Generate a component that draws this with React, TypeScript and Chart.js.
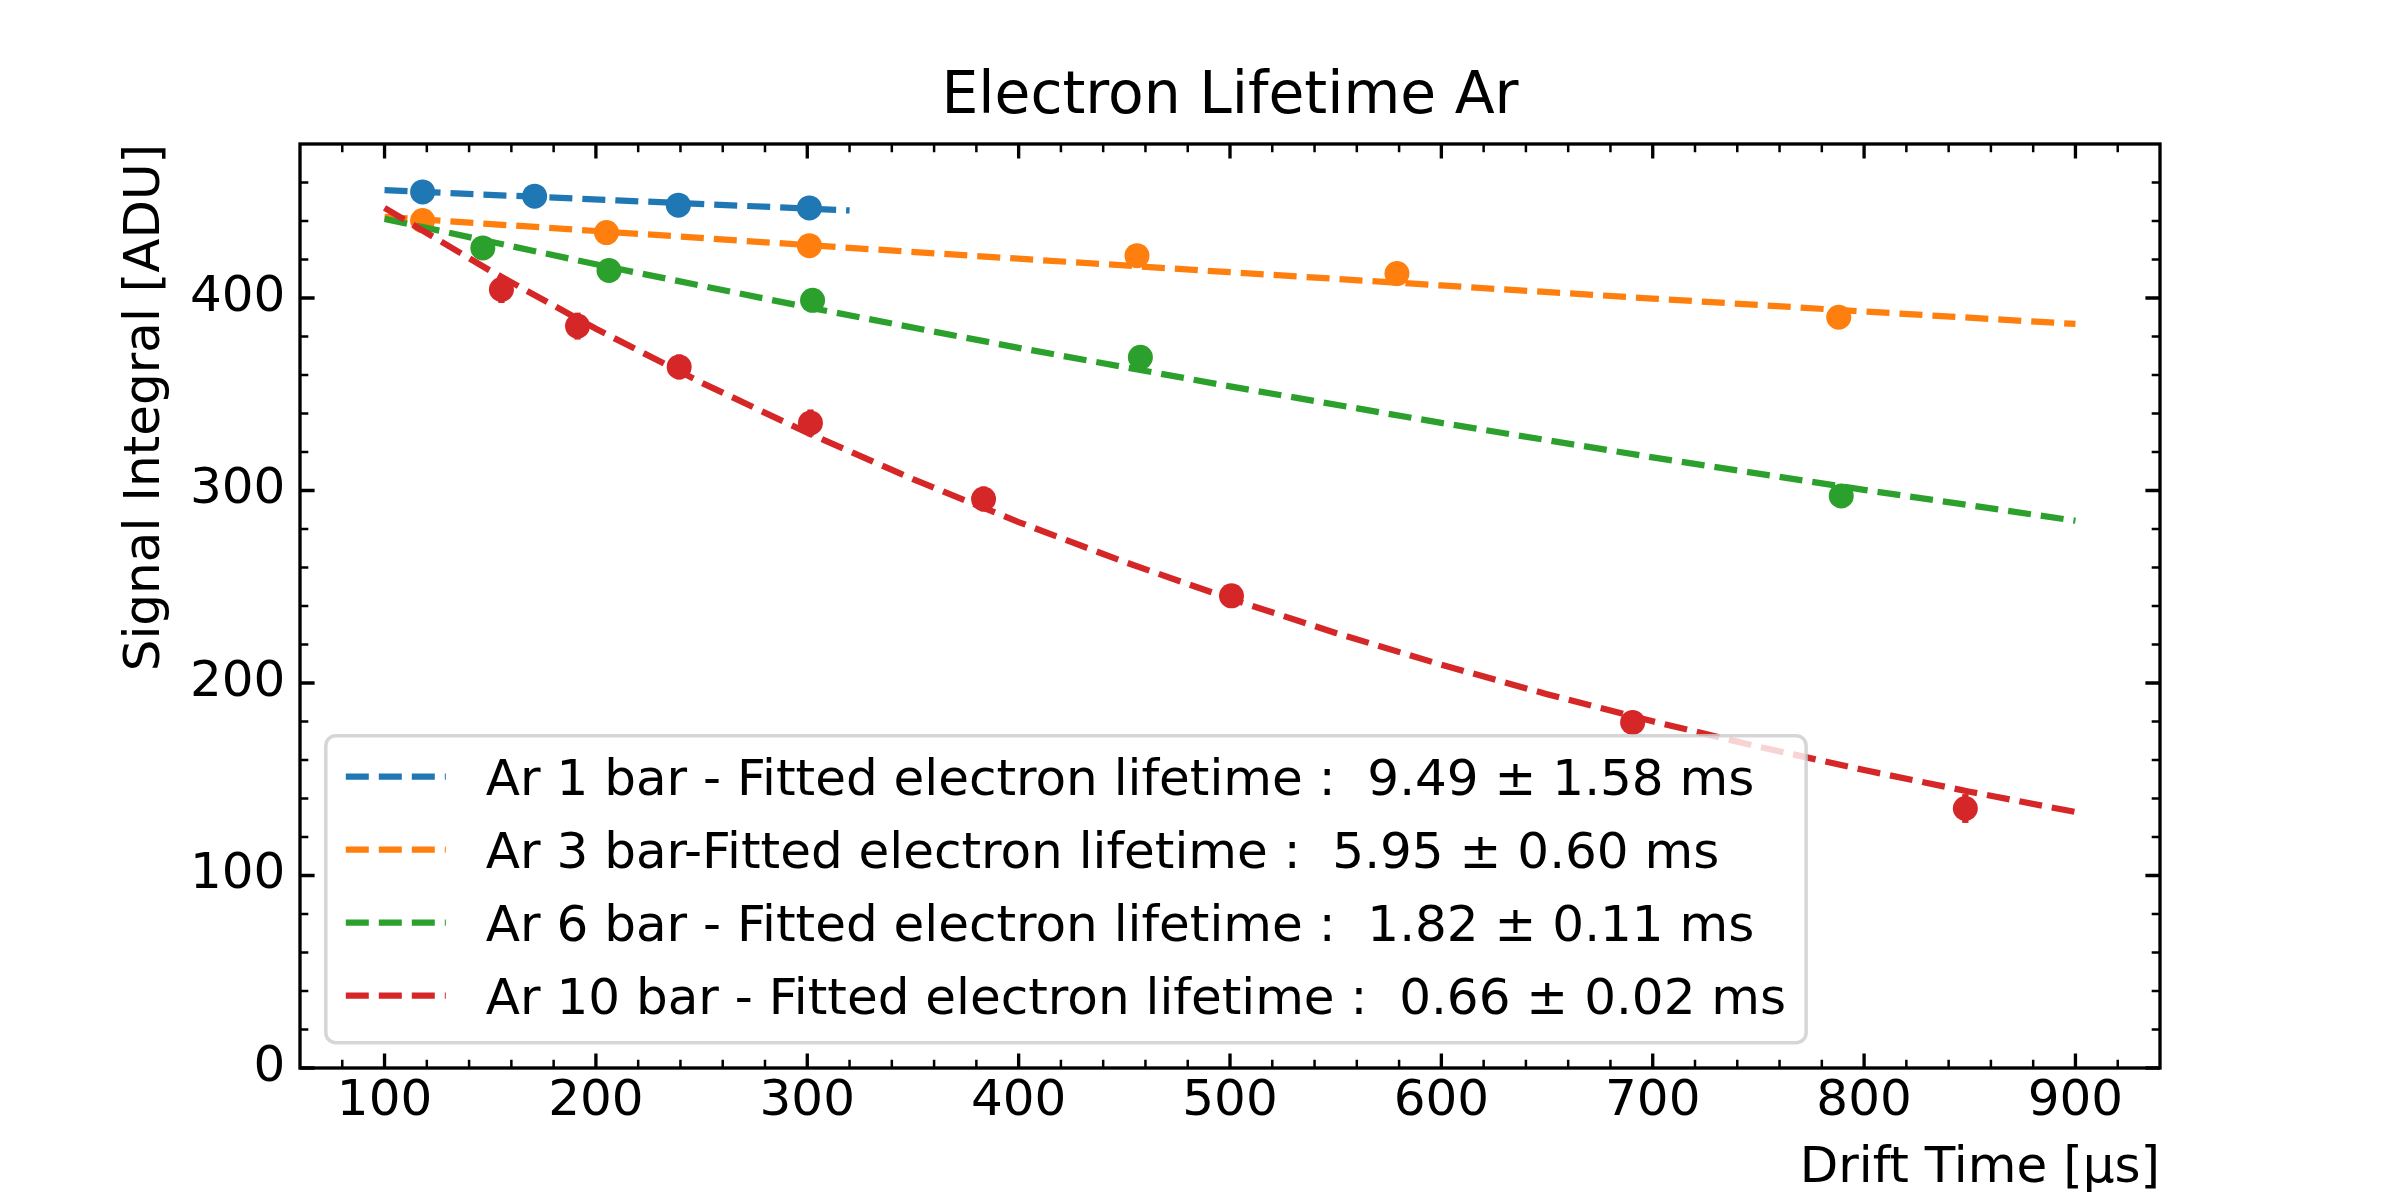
import { useEffect, useRef } from "react";
import { Chart, registerables } from "chart.js";

Chart.register(...registerables);

const FONT = "'DejaVu Sans', 'Liberation Sans', sans-serif";

const TITLE = "Electron Lifetime Ar";
const X_LABEL = "Drift Time [μs]";
const Y_LABEL = "Signal Integral [ADU]";

const X_TICKS = [100, 200, 300, 400, 500, 600, 700, 800, 900];
const Y_TICKS = [0, 100, 200, 300, 400];
const X_MIN = 60;
const X_MAX = 940;
const Y_MIN = 0;
const Y_MAX = 480;
const MINOR_STEP = 20;

const LEGEND_LABELS = [
  "Ar 1 bar - Fitted electron lifetime :  9.49 ± 1.58 ms",
  "Ar 3 bar-Fitted electron lifetime :  5.95 ± 0.60 ms",
  "Ar 6 bar - Fitted electron lifetime :  1.82 ± 0.11 ms",
  "Ar 10 bar - Fitted electron lifetime :  0.66 ± 0.02 ms",
];
const COLORS = ["#1f77b4", "#ff7f0e", "#2ca02c", "#d62728"];

// measured points (drift time in µs, signal integral in ADU, y error)
const ar1X = [118, 171, 239, 301];
const ar1Y = [455.1, 452.9, 448.2, 446.8];
const ar1Err = [2.5, 2.5, 2.5, 2.5];

const ar3X = [118, 205, 301, 456, 579, 788];
const ar3Y = [440.2, 434.0, 427.2, 422.0, 412.7, 390.0];
const ar3Err = [2.5, 2.5, 2.5, 2.5, 2.5, 3];

const ar6X = [146.5, 206.2, 302.5, 457.6, 789.2];
const ar6Y = [426.0, 414.3, 398.8, 369.2, 297.2];
const ar6Err = [3, 3, 3, 3, 3];

const ar10X = [155.3, 191.3, 239.4, 301.5, 383.4, 500.7, 690.5, 847.9];
const ar10Y = [404.4, 385.4, 364.2, 335.1, 295.6, 245.3, 179.5, 134.8];
const ar10Err = [7, 7, 6.5, 7, 6.5, 6, 6, 7.5];

// fitted curves
const fit1X = [100, 210, 320];
const fit1Y = [456.0, 450.7, 445.5];

const fit3X = [100, 200, 300, 400, 500, 600, 700, 800, 900];
const fit3Y = [442.1, 434.8, 427.5, 420.4, 413.4, 406.5, 399.7, 393.0, 386.5];

const fit6X = [100, 200, 300, 400, 500, 600, 700, 800, 900];
const fit6Y = [441.1, 417.5, 395.2, 374.1, 354.1, 335.1, 317.2, 300.3, 284.3];

const fit10X = [100, 150, 200, 250, 300, 350, 400, 450, 500, 550, 600, 650, 700, 750, 800, 850, 900];
const fit10Y = [446.8, 414.2, 384.0, 356.0, 330.0, 305.9, 283.6, 262.9, 243.8, 226.0, 209.5, 194.2, 180.1, 166.9, 154.8, 143.5, 133.0];

const pts = (xs: number[], ys: number[]) => xs.map((x, i) => ({ x, y: ys[i] }));

const errorBarPlugin = {
  id: "errorBars",
  beforeDatasetDraw(chart: any, args: any) {
    const ds = chart.data.datasets[args.index];
    if (!ds.errs) return;
    const meta = chart.getDatasetMeta(args.index);
    const ys = chart.scales.y;
    const ctx = chart.ctx;
    ctx.save();
    ctx.strokeStyle = ds.backgroundColor;
    ctx.lineWidth = 6.25;
    ds.data.forEach((p: any, i: number) => {
      const el = meta.data[i];
      ctx.beginPath();
      ctx.moveTo(el.x, ys.getPixelForValue(p.y - ds.errs[i]));
      ctx.lineTo(el.x, ys.getPixelForValue(p.y + ds.errs[i]));
      ctx.stroke();
    });
    ctx.restore();
  },
};

const frameLegendPlugin = {
  id: "frameLegend",
  afterDraw(chart: any) {
    const ctx = chart.ctx;
    const { left, right, top, bottom } = chart.chartArea;
    const xs = chart.scales.x;
    const ys = chart.scales.y;
    ctx.save();
    ctx.strokeStyle = "#000";
    // minor ticks
    ctx.lineWidth = 2.5;
    for (let v = X_MIN; v <= X_MAX + 1e-9; v += MINOR_STEP) {
      if (X_TICKS.includes(v) || v === X_MIN || v === X_MAX) continue;
      const px = xs.getPixelForValue(v);
      ctx.beginPath();
      ctx.moveTo(px, bottom);
      ctx.lineTo(px, bottom - 8.3);
      ctx.moveTo(px, top);
      ctx.lineTo(px, top + 8.3);
      ctx.stroke();
    }
    for (let v = Y_MIN; v <= Y_MAX + 1e-9; v += MINOR_STEP) {
      if (Y_TICKS.includes(v) || v === Y_MIN || v === Y_MAX) continue;
      const py = ys.getPixelForValue(v);
      ctx.beginPath();
      ctx.moveTo(left, py);
      ctx.lineTo(left + 8.3, py);
      ctx.moveTo(right, py);
      ctx.lineTo(right - 8.3, py);
      ctx.stroke();
    }
    // major ticks
    ctx.lineWidth = 3.33;
    X_TICKS.forEach((v) => {
      const px = xs.getPixelForValue(v);
      ctx.beginPath();
      ctx.moveTo(px, bottom);
      ctx.lineTo(px, bottom - 14.6);
      ctx.moveTo(px, top);
      ctx.lineTo(px, top + 14.6);
      ctx.stroke();
    });
    Y_TICKS.forEach((v) => {
      const py = ys.getPixelForValue(v);
      ctx.beginPath();
      ctx.moveTo(left, py);
      ctx.lineTo(left + 14.6, py);
      ctx.moveTo(right, py);
      ctx.lineTo(right - 14.6, py);
      ctx.stroke();
    });
    // frame
    ctx.lineWidth = 3.33;
    ctx.strokeRect(left, top, right - left, bottom - top);

    // legend (matplotlib style, lower left inside axes)
    ctx.font = `50px ${FONT}`;
    const widths = LEGEND_LABELS.map((t) => ctx.measureText(t).width);
    const boxL = left + 25.8;
    const boxB = bottom - 25.3;
    const boxH = 307;
    const boxT = boxB - boxH;
    const boxW = 20 + 100 + 40 + Math.max(...widths) + 20;
    ctx.beginPath();
    ctx.roundRect(boxL, boxT, boxW, boxH, 10);
    ctx.fillStyle = "rgba(255,255,255,0.8)";
    ctx.fill();
    ctx.strokeStyle = "rgba(204,204,204,0.8)";
    ctx.lineWidth = 3.5;
    ctx.stroke();
    LEGEND_LABELS.forEach((label, i) => {
      const cy = boxT + 41 + i * 73;
      ctx.save();
      ctx.strokeStyle = COLORS[i];
      ctx.lineWidth = 6.25;
      ctx.setLineDash([23, 10]);
      ctx.beginPath();
      ctx.moveTo(boxL + 20, cy);
      ctx.lineTo(boxL + 120, cy);
      ctx.stroke();
      ctx.restore();
      ctx.fillStyle = "#000";
      ctx.textBaseline = "alphabetic";
      ctx.textAlign = "left";
      ctx.fillText(label, boxL + 160, cy + 18);
    });
    ctx.restore();
  },
};

export default function App() {
  const canvasRef = useRef<HTMLCanvasElement | null>(null);

  useEffect(() => {
    document.body.style.margin = "0";
    document.body.style.overflow = "hidden";
    Chart.defaults.font.family = FONT;
    Chart.defaults.color = "#000";

    const pointSets = [
      { xs: ar1X, ys: ar1Y, errs: ar1Err },
      { xs: ar3X, ys: ar3Y, errs: ar3Err },
      { xs: ar6X, ys: ar6Y, errs: ar6Err },
      { xs: ar10X, ys: ar10Y, errs: ar10Err },
    ];
    const fitSets = [
      { xs: fit1X, ys: fit1Y },
      { xs: fit3X, ys: fit3Y },
      { xs: fit6X, ys: fit6Y },
      { xs: fit10X, ys: fit10Y },
    ];

    const datasets: any[] = [];
    pointSets.forEach((s, i) => {
      datasets.push({
        label: LEGEND_LABELS[i] + " (data)",
        data: pts(s.xs, s.ys),
        errs: s.errs,
        showLine: false,
        backgroundColor: COLORS[i],
        borderColor: COLORS[i],
        pointRadius: 12.5,
        pointBorderWidth: 0,
        pointHoverRadius: 12.5,
        order: 8 - i * 2,
      });
      datasets.push({
        label: LEGEND_LABELS[i],
        data: pts(fitSets[i].xs, fitSets[i].ys),
        showLine: true,
        borderColor: COLORS[i],
        backgroundColor: COLORS[i],
        borderWidth: 6.25,
        borderDash: [23, 10],
        pointRadius: 0,
        pointHoverRadius: 0,
        tension: 0,
        fill: false,
        order: 7 - i * 2,
      });
    });

    const chart = new Chart(canvasRef.current as HTMLCanvasElement, {
      type: "scatter",
      data: { datasets },
      plugins: [errorBarPlugin, frameLegendPlugin],
      options: {
        animation: false,
        responsive: false,
        devicePixelRatio: 1,
        events: [],
        layout: { padding: { left: 0, right: 240, top: 0, bottom: 0 } },
        plugins: {
          legend: { display: false },
          tooltip: { enabled: false },
          title: {
            display: true,
            text: TITLE,
            fullSize: false,
            color: "#000",
            font: { size: 58.33, weight: "normal", family: FONT, lineHeight: 1.2 },
            padding: { top: 63.1, bottom: 10.9 },
          },
        },
        scales: {
          x: {
            type: "linear",
            min: X_MIN,
            max: X_MAX,
            grid: { display: false, drawTicks: false },
            border: { display: false },
            ticks: {
              font: { size: 50, family: FONT, lineHeight: 1.2 },
              color: "#000",
              padding: 4,
              maxRotation: 0,
              autoSkip: false,
            },
            afterBuildTicks: (s: any) => {
              s.ticks = X_TICKS.map((v) => ({ value: v }));
            },
            afterFit: (s: any) => {
              s.height = 132;
            },
            title: {
              display: true,
              text: X_LABEL,
              align: "end",
              color: "#000",
              font: { size: 50, family: FONT, lineHeight: 1.2 },
              padding: { top: 0, bottom: 0.6 },
            },
          },
          y: {
            type: "linear",
            min: Y_MIN,
            max: Y_MAX,
            grid: { display: false, drawTicks: false },
            border: { display: false },
            ticks: {
              font: { size: 50, family: FONT, lineHeight: 1.2 },
              color: "#000",
              padding: 14.6,
              autoSkip: false,
            },
            afterBuildTicks: (s: any) => {
              s.ticks = Y_TICKS.map((v) => ({ value: v }));
            },
            afterFit: (s: any) => {
              s.width = 300;
            },
            title: {
              display: true,
              text: Y_LABEL,
              align: "end",
              color: "#000",
              font: { size: 50, family: FONT, lineHeight: 1.2 },
              padding: { top: 115.7, bottom: 0 },
            },
          },
        },
      } as any,
    });

    return () => chart.destroy();
  }, []);

  return (
    <div style={{ width: 2400, height: 1200, background: "#fff" }}>
      <canvas ref={canvasRef} width={2400} height={1200} style={{ display: "block", width: 2400, height: 1200 }} />
    </div>
  );
}
